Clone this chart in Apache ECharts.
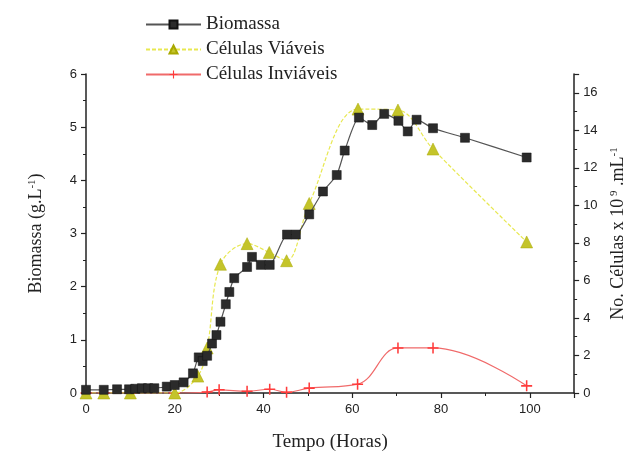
<!DOCTYPE html>
<html lang="pt">
<head>
    <meta charset="UTF-8">
    <title>Biomassa e Células</title>
    <script src="https://cdn.jsdelivr.net/npm/echarts@6/dist/echarts.min.js"></script>
    <style>
        html, body { margin: 0; padding: 0; background: #fff; }
        #chart { width: 635px; height: 457px; }
    </style>
</head>
<body>
    <div id="chart"></div>
    <script>
        // Biomassa (g/L) - eixo esquerdo
        const tempoBio = [0, 4, 7, 9.7, 11.1, 12.6, 14, 15.4, 18.2, 20, 22, 24.1, 25.4, 26.3, 27.3, 28.4, 29.4, 30.3, 31.5, 32.3, 33.4,
            36.3, 37.4, 39.4, 41.4, 45.3, 47.3, 50.3, 53.4, 56.5, 58.3, 61.5, 64.5, 67.2, 70.4, 72.5, 74.5, 78.2, 85.4, 99.3];
        const biomassa = [0.06, 0.06, 0.07, 0.07, 0.08, 0.09, 0.09, 0.09, 0.12, 0.15, 0.2, 0.37, 0.67, 0.6, 0.7, 0.93, 1.09, 1.34, 1.67, 1.9, 2.16,
            2.37, 2.56, 2.41, 2.41, 2.98, 2.98, 3.36, 3.79, 4.1, 4.56, 5.18, 5.04, 5.25, 5.12, 4.92, 5.14, 4.98, 4.8, 4.43];

        // Células (x10^9/mL) - eixo direito
        const tempoViaveis = [0, 4, 10, 20, 25.2, 27.3, 30.3, 36.3, 41.3, 45.2, 50.3, 61.3, 70.3, 78.2, 99.3];
        const viaveis = [0, 0, 0, 0, 0.9, 2.4, 6.86, 7.96, 7.49, 7.05, 10.1, 15.13, 15.08, 13.0, 8.05];

        const tempoInviaveis = [0, 4, 10, 20, 27.3, 30, 36.3, 41.4, 45.2, 50.3, 61.2, 70.3, 78.2, 99.3];
        const inviaveis = [0, 0, 0, 0, 0.05, 0.17, 0.09, 0.2, 0.04, 0.26, 0.47, 2.4, 2.4, 0.38];

        const pares = (xs, ys) => xs.map((x, i) => [x, ys[i]]);

        const plusPath = 'path://M4.3,0h1.4v4.3h4.3v1.4h-4.3v4.3h-1.4v-4.3h-4.3v-1.4h4.3z';
        const serif = "'Liberation Serif', 'DejaVu Serif', serif";
        const sans = "'Liberation Sans', Arial, sans-serif";

        const chart = echarts.init(document.getElementById('chart'));
        chart.setOption({
            animation: false,
            backgroundColor: '#fff',
            grid: { left: 86, right: 50, top: 74, bottom: 57, containLabel: false },
            legend: {
                orient: 'vertical',
                left: 140,
                top: 10,
                itemWidth: 55,
                itemHeight: 10,
                itemGap: 6,
                textStyle: { fontFamily: serif, fontSize: 19, color: '#222' },
                data: ['Biomassa', 'Células Viáveis', 'Células Inviáveis']
            },
            xAxis: {
                type: 'value',
                min: 0, max: 110, interval: 20,
                name: 'Tempo (Horas)',
                nameLocation: 'middle',
                nameGap: 40,
                nameTextStyle: { fontFamily: serif, fontSize: 19, color: '#222' },
                axisLine: { lineStyle: { color: '#222', width: 1.5 } },
                axisTick: { length: 5, lineStyle: { color: '#222', width: 1.2 } },
                minorTick: { show: true, splitNumber: 2, length: 3, lineStyle: { color: '#222' } },
                axisLabel: { showMaxLabel: false, fontFamily: sans, fontSize: 13, color: '#222', margin: 10 },
                splitLine: { show: false }
            },
            yAxis: [{
                type: 'value',
                min: 0, max: 6, interval: 1,
                position: 'left',
                name: 'Biomassa (g.L{sup|-1})',
                nameLocation: 'middle',
                nameGap: 40,
                nameTextStyle: {
                    fontFamily: serif, fontSize: 18, color: '#222',
                    rich: { sup: { fontFamily: serif, fontSize: 11, color: '#222', verticalAlign: 'top', padding: [0, 0, 8, 0] } }
                },
                axisLine: { show: true, lineStyle: { color: '#222', width: 1.5 } },
                axisTick: { length: 5, lineStyle: { color: '#222', width: 1.2 } },
                minorTick: { show: true, splitNumber: 2, length: 3, lineStyle: { color: '#222' } },
                axisLabel: { fontFamily: sans, fontSize: 13, color: '#222', margin: 9 },
                splitLine: { show: false }
            }, {
                type: 'value',
                min: 0, max: 17, interval: 2,
                position: 'right',
                name: 'No. Células x 10{sup| 9} .mL{sup|-1}',
                nameLocation: 'middle',
                nameGap: 32,
                nameTextStyle: {
                    fontFamily: serif, fontSize: 18, color: '#222',
                    rich: { sup: { fontFamily: serif, fontSize: 11, color: '#222', verticalAlign: 'top', padding: [0, 0, 8, 0] } }
                },
                axisLine: { show: true, lineStyle: { color: '#222', width: 1.5 } },
                axisTick: { length: 5, lineStyle: { color: '#222', width: 1.2 } },
                minorTick: { show: true, splitNumber: 2, length: 3, lineStyle: { color: '#222' } },
                axisLabel: { showMaxLabel: false, fontFamily: sans, fontSize: 13, color: '#222', margin: 9 },
                splitLine: { show: false }
            }],
            series: [{
                name: 'Biomassa',
                type: 'line',
                yAxisIndex: 0,
                data: pares(tempoBio, biomassa),
                smooth: 0.2,
                symbol: 'rect',
                symbolSize: 9,
                lineStyle: { color: '#555', width: 1.2 },
                itemStyle: { color: '#2b2b2b', borderColor: '#111', borderWidth: 0.5 },
                z: 4
            }, {
                name: 'Células Viáveis',
                type: 'line',
                yAxisIndex: 1,
                data: pares(tempoViaveis, viaveis),
                smooth: 0.35,
                symbol: 'triangle',
                symbolSize: 12,
                lineStyle: { color: '#e8e850', width: 1.2, type: [4, 2] },
                itemStyle: { color: '#c4c42a', borderColor: '#a8a800', borderWidth: 0.5 },
                z: 3
            }, {
                name: 'Células Inviáveis',
                type: 'line',
                yAxisIndex: 1,
                data: pares(tempoInviaveis, inviaveis),
                smooth: 0.4,
                symbol: plusPath,
                symbolSize: 11,
                lineStyle: { color: '#f06a6a', width: 1.2 },
                itemStyle: { color: '#ff3b3b' },
                z: 2
            }]
        });
    </script>
</body>
</html>
